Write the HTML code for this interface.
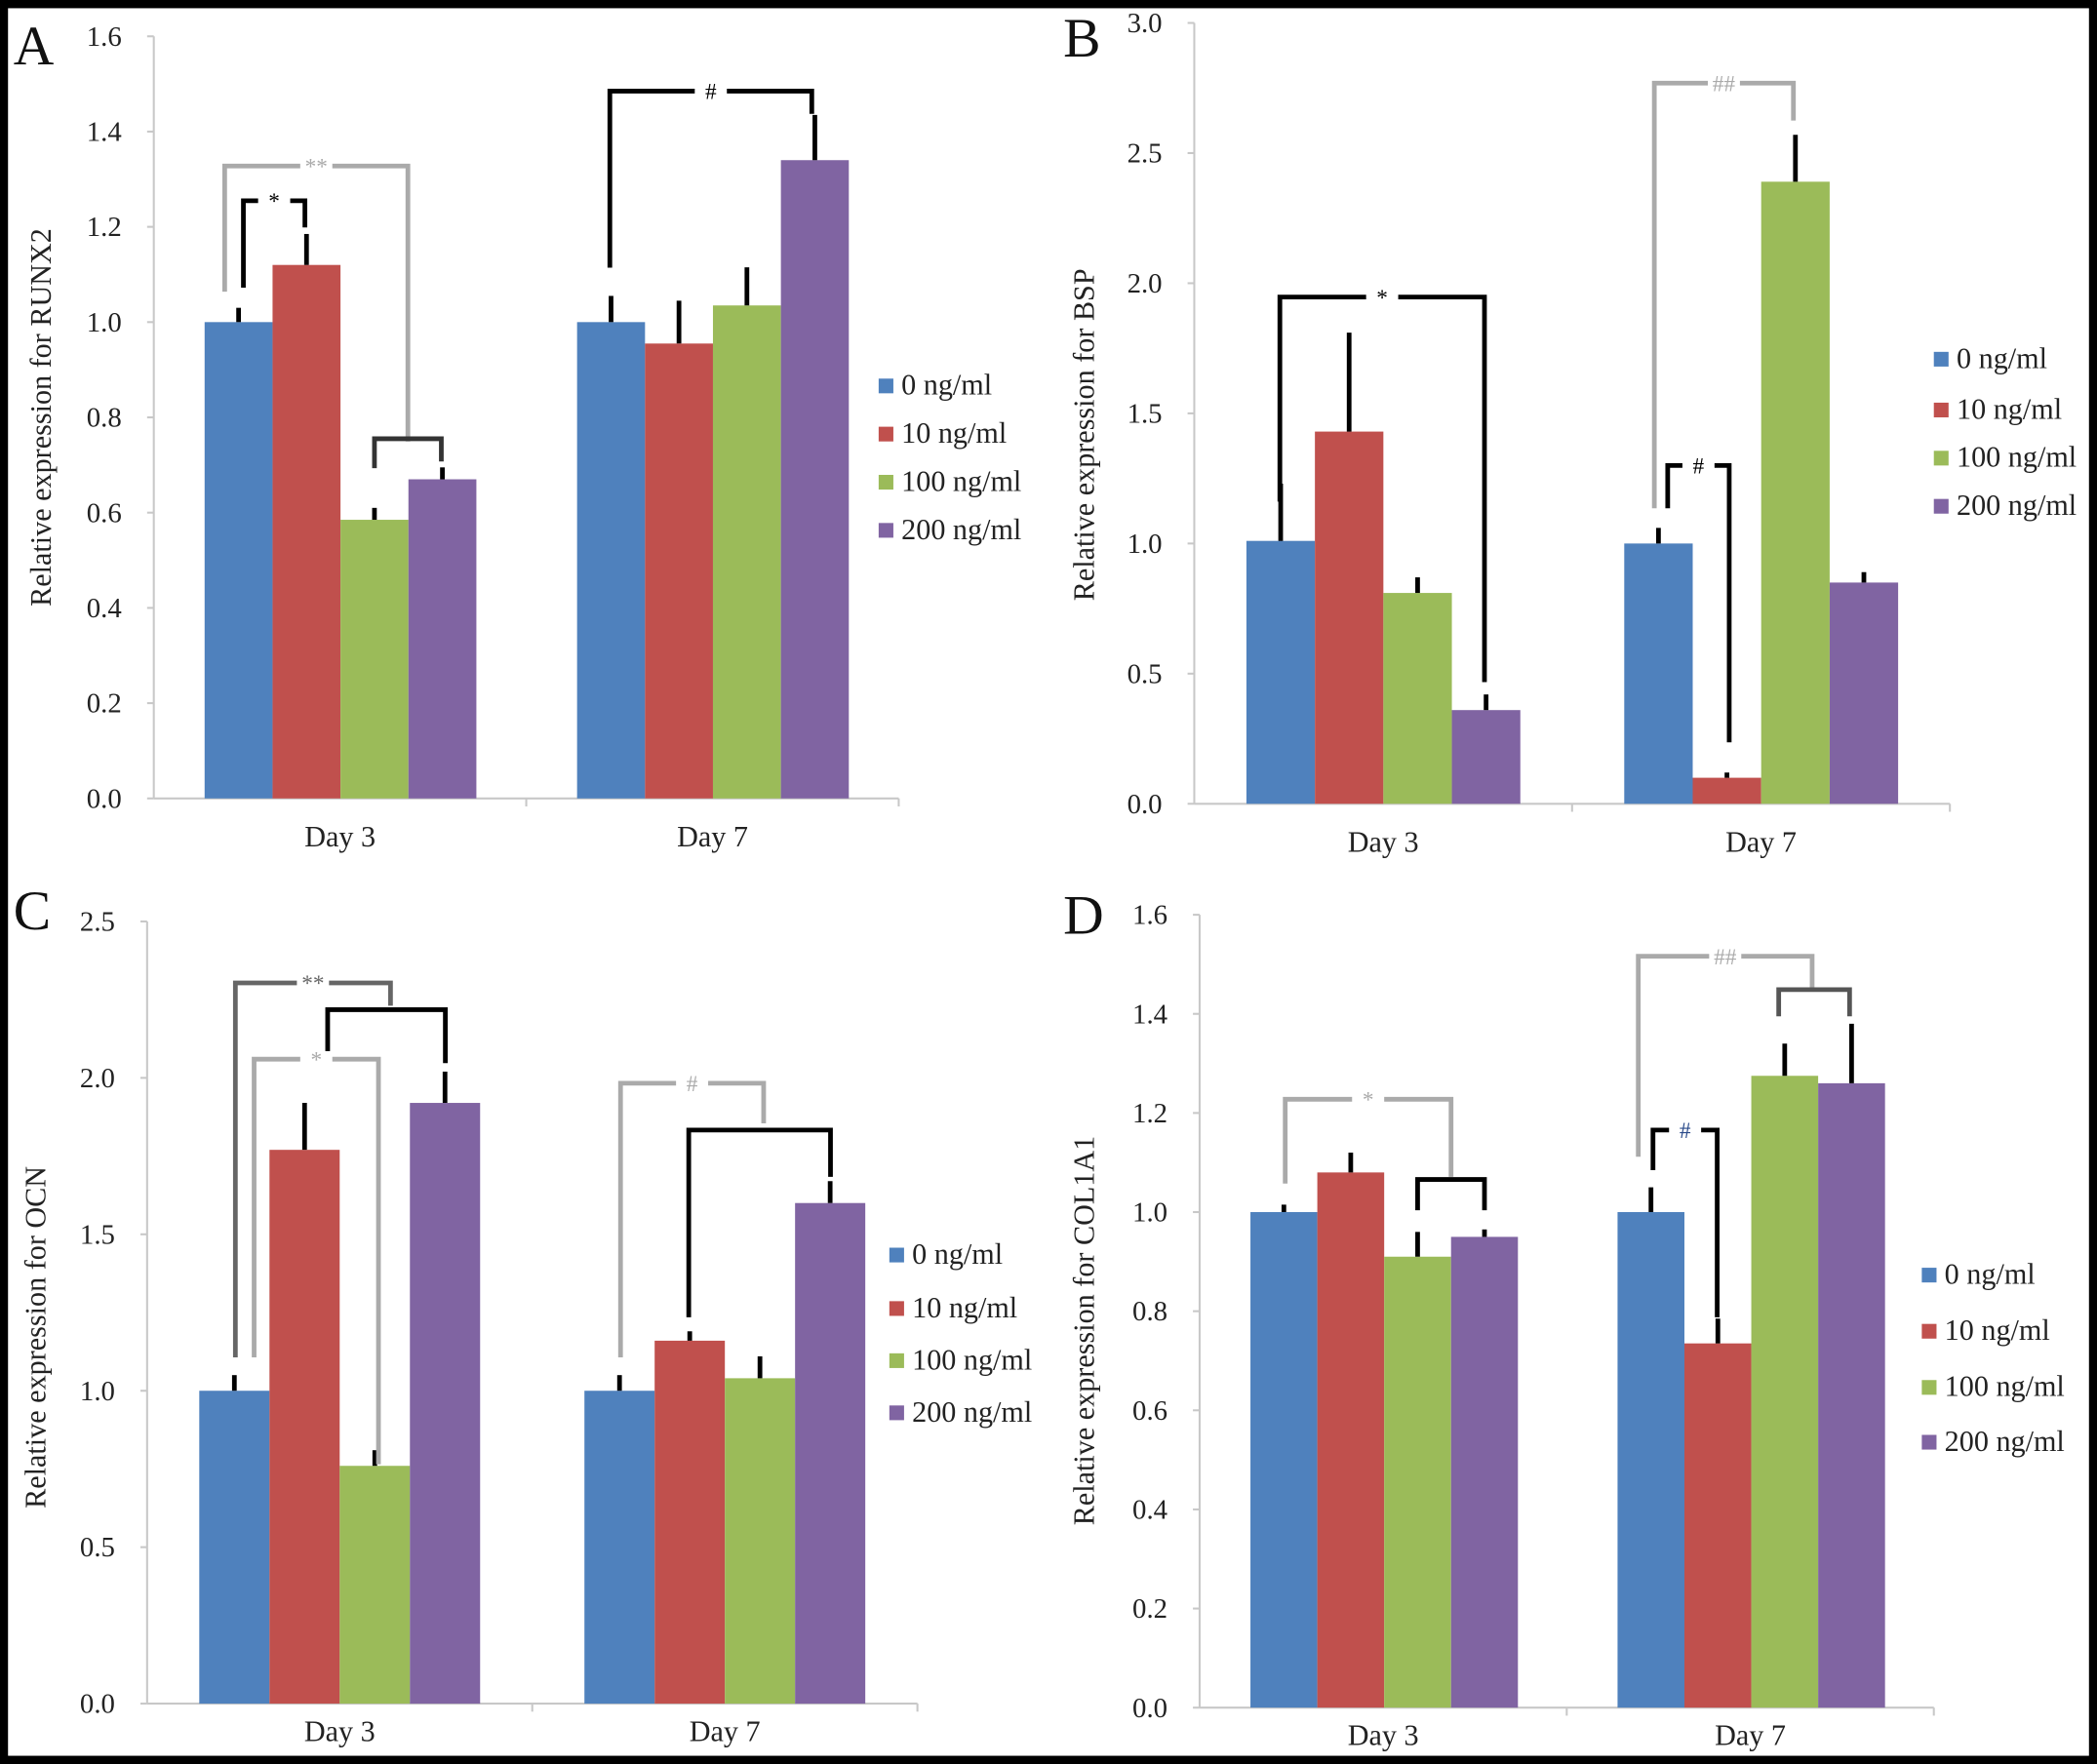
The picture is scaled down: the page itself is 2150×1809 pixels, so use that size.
<!DOCTYPE html>
<html><head><meta charset="utf-8">
<style>
html,body{margin:0;padding:0;background:#000;}
svg{display:block;}
text{font-family:"Liberation Serif",serif;}
</style></head>
<body>
<svg id="fig" width="2150" height="1809" viewBox="0 0 1568 1319" xmlns="http://www.w3.org/2000/svg">
<rect x="0" y="0" width="1568" height="1319" fill="#000"/>
<rect x="6" y="6" width="1556" height="1307" fill="#fff"/>
</svg>
<script>
const categories = ["Day 3","Day 7"];
const seriesNames = ["0 ng/ml","10 ng/ml","100 ng/ml","200 ng/ml"];
const colors = ["#4F81BD","#C0504D","#9BBB59","#8064A2"];

const aValues = [[1.0,1.12,0.585,0.67],[1.0,0.955,1.035,1.34]];
const aErrors = [[0.03,0.065,0.025,0.025],[0.055,0.09,0.08,0.095]];
const aTicks = ["0.0","0.2","0.4","0.6","0.8","1.0","1.2","1.4","1.6"];

const bValues = [[1.01,1.43,0.81,0.36],[1.0,0.10,2.39,0.85]];
const bErrors = [[0.22,0.38,0.06,0.06],[0.06,0.02,0.18,0.04]];
const bTicks = ["0.0","0.5","1.0","1.5","2.0","2.5","3.0"];

const cValues = [[1.0,1.77,0.76,1.92],[1.0,1.16,1.04,1.60]];
const cErrors = [[0.05,0.15,0.05,0.10],[0.05,0.03,0.07,0.07]];
const cTicks = ["0.0","0.5","1.0","1.5","2.0","2.5"];

const dValues = [[1.0,1.08,0.91,0.95],[1.0,0.735,1.275,1.26]];
const dErrors = [[0.015,0.04,0.05,0.015],[0.05,0.05,0.065,0.12]];
const dTicks = ["0.0","0.2","0.4","0.6","0.8","1.0","1.2","1.4","1.6"];

const NS="http://www.w3.org/2000/svg";
const svg=document.getElementById('fig');
function mk(tag,attrs,parent,txt){const e=document.createElementNS(NS,tag);for(const k in attrs)e.setAttribute(k,attrs[k]);if(txt!==undefined)e.textContent=txt;(parent||svg).appendChild(e);return e;}

function panel(p){
  const g=mk('g',{});
  
  
  const maxV=parseFloat(p.ticks[p.ticks.length-1]);
  const y=v=>p.y0-(v/maxV)*(p.y0-p.yTop);
  const catW=(p.x1-p.x0)/categories.length;
  const barX=(c,s)=>p.x0+c*catW+p.barOff+s*p.barW;
  const ya=mk('line',{x1:p.x0,y1:p.yTop,x2:p.x0,y2:p.y0,stroke:'#c8c8c8','stroke-width':1.5},g);
  
  const xa=mk('line',{x1:p.x0,y1:p.y0,x2:p.x1,y2:p.y0,stroke:'#c8c8c8','stroke-width':1.5},g);
  
  for(let c=1;c<=categories.length;c++){mk('line',{x1:p.x0+c*catW,y1:p.y0,x2:p.x0+c*catW,y2:p.y0+6,stroke:'#c8c8c8','stroke-width':1.5},g);}
  p.ticks.forEach(t=>{
    const v=parseFloat(t);
    mk('line',{x1:p.x0-5,y1:y(v),x2:p.x0,y2:y(v),stroke:'#c8c8c8','stroke-width':1.5},g);
    const tl=mk('text',{x:p.x0-24,y:y(v)+7,'font-size':21,'text-anchor':'end',fill:'#222'},g,t);
    
  });
  categories.forEach((cat,c)=>{
    const cl=mk('text',{x:p.x0+c*catW+catW/2,y:p.y0+p.catDy,'font-size':22,'text-anchor':'middle',fill:'#222'},g,cat);
    
    p.values[c].forEach((v,s)=>{
      const b=mk('rect',{x:barX(c,s),y:y(v),width:p.barW,height:p.y0-y(v),fill:colors[s]},g);
      
      
      const cx=barX(c,s)+p.barW/2;
      const e=mk('line',{x1:cx,y1:y(v),x2:cx,y2:y(v+p.errors[c][s]),stroke:'#000','stroke-width':3.5},g);
      
    });
  });
  const tt=mk('text',{x:0,y:0,'font-size':22,'text-anchor':'middle',fill:'#222',transform:`translate(${p.titleX},${p.titleY}) rotate(-90)`},g,p.title);
  
  const lt=mk('text',{x:p.letter[0],y:p.letter[1],'font-size':42,fill:'#111'},g,p.id.toUpperCase());
  
  seriesNames.forEach((n,s)=>{
    const ry=p.legY[s];
    const le=mk('g',{},g);
    
    mk('rect',{x:p.legX,y:ry-12,width:11,height:11,fill:colors[s]},le);
    mk('text',{x:p.legX+17,y:ry,'font-size':22,fill:'#222'},le,n);
  });
  p.brackets.forEach(br=>{
    const [xa_,ya_,xb,yb,top,col,lab,lc]=br;
    const pl=mk('polyline',{points:`${xa_},${ya_} ${xa_},${top} ${xb},${top} ${xb},${yb}`,fill:'none',stroke:col,'stroke-width':3.5},g);
    
    if(lab){
      const mx=(xa_+xb)/2;
      mk('rect',{x:mx-12,y:top-6,width:24,height:12,fill:'#fff'},g);
      const sl=mk('text',{x:mx,y:top+6,'font-size':17,'text-anchor':'middle',fill:lc||col},g,lab);
      
    }
  });
}

panel({id:'a',x0:115,x1:672,y0:597,yTop:27,barOff:38,barW:50.8,values:aValues,errors:aErrors,ticks:aTicks,catDy:36,
  title:'Relative expression for RUNX2',titleX:38,titleY:312,letter:[10,48],legX:657,legY:[295,331,367,403],
  brackets:[[168,218,305,330,124,'#aaa','**'],[182,215,228,170,150,'#000','*'],[280,350,330,345,328,'#333',''],[456,200,607,85,68,'#000','#']]});
panel({id:'b',x0:893,x1:1458,y0:601,yTop:17,barOff:39,barW:51.2,values:bValues,errors:bErrors,ticks:bTicks,catDy:36,
  title:'Relative expression for BSP',titleX:818,titleY:325,letter:[795,42],legX:1446,legY:[275,313,349,385],
  brackets:[[957,375,1110,510,222,'#000','*'],[1237,380,1341,90,62,'#aaa','##'],[1247,380,1293,555,348,'#000','#']]});
panel({id:'c',x0:110,x1:686,y0:1274,yTop:689,barOff:39,barW:52.5,values:cValues,errors:cErrors,ticks:cTicks,catDy:28,
  title:'Relative expression for OCN',titleX:34,titleY:1000,letter:[10,695],legX:665,legY:[945,985,1024,1063],
  brackets:[[176,1015,292,752,735,'#666','**'],[245,790,333,795,755,'#000',''],[190,1015,283,1095,792,'#aaa','*'],[464,1015,571,840,810,'#aaa','#'],[515,985,621,880,845,'#000','']]});
panel({id:'d',x0:897,x1:1446,y0:1277,yTop:684,barOff:38,barW:50,values:dValues,errors:dErrors,ticks:dTicks,catDy:28,
  title:'Relative expression for COL1A1',titleX:818,titleY:995,letter:[795,698],legX:1437,legY:[960,1002,1044,1085],
  brackets:[[961,885,1085,880,822,'#aaa','*'],[1060,905,1110,905,882,'#000',''],[1225,865,1355,740,715,'#aaa','##'],[1330,760,1383,760,740,'#555',''],[1236,875,1284,985,845,'#000','#','#2a4a8a']]});
</script>
</body></html>
